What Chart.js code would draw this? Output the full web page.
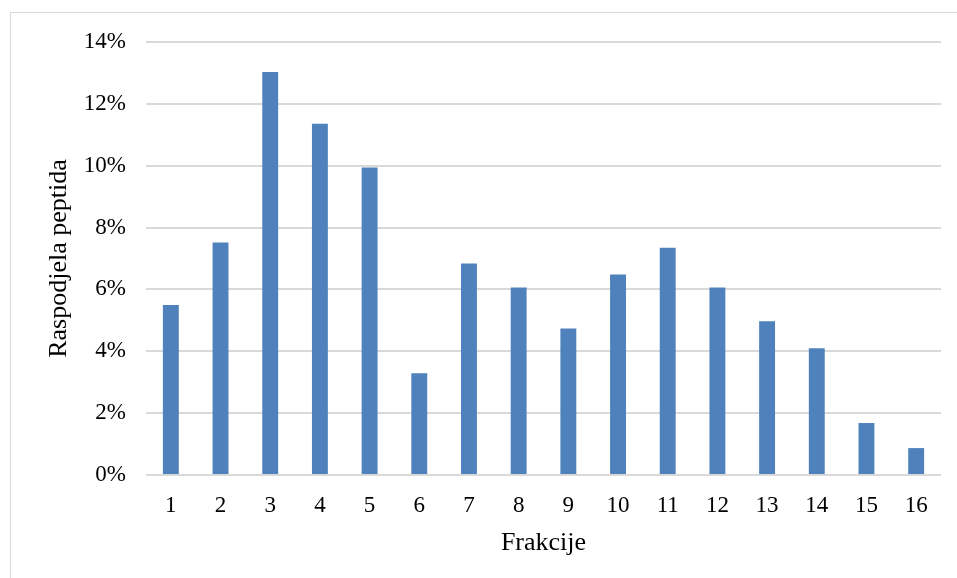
<!DOCTYPE html>
<html lang="en">
<head>
    <meta charset="UTF-8">
    <title>Raspodjela peptida</title>
    <script src="https://cdn.jsdelivr.net/npm/chart.js"></script>
    <style>
        html, body { margin: 0; padding: 0; background: #fff; }
        #wrap { position: absolute; left: 0; top: 0; width: 957px; height: 578px; }
        #frame { position: absolute; left: 10px; top: 12px; width: 1000px; height: 700px; border: 1px solid #d9d9d9; box-sizing: border-box; }
    </style>
</head>
<body>
    <div id="frame"></div>
    <div id="wrap">
        <canvas id="chart" width="957" height="578"></canvas>
    </div>
    <script>
        const fractions = ['1','2','3','4','5','6','7','8','9','10','11','12','13','14','15','16'];
        const peptideShare = [5.5, 7.52, 13.03, 11.36, 9.94, 3.29, 6.84, 6.06, 4.74, 6.48, 7.35, 6.06, 4.97, 4.1, 1.68, 0.87];
        const yTicks = [0, 2, 4, 6, 8, 10, 12, 14];

        const serif = "'Liberation Serif', 'Times New Roman', serif";

        new Chart(document.getElementById('chart'), {
            type: 'bar',
            data: {
                labels: fractions,
                datasets: [{
                    label: 'Raspodjela peptida',
                    data: peptideShare,
                    backgroundColor: '#4f81bd',
                    barPercentage: 0.32,
                    categoryPercentage: 1.0
                }]
            },
            options: {
                responsive: false,
                animation: false,
                layout: { padding: { top: 42, right: 16, left: 0, bottom: 0 } },
                plugins: { legend: { display: false }, tooltip: { enabled: false } },
                scales: {
                    x: {
                        grid: { display: false },
                        border: { display: false },
                        ticks: { color: '#000', font: { family: serif, size: 23 }, padding: 9 },
                        title: { display: true, text: 'Frakcije', color: '#000', font: { family: serif, size: 26 }, padding: { top: 4, bottom: 19 } },
                        afterFit: s => { s.height = 103; }
                    },
                    y: {
                        min: 0,
                        max: 14,
                        afterBuildTicks: s => { s.ticks = yTicks.map(v => ({ value: v })); },
                        grid: { color: '#d9d9d9', lineWidth: 2, drawTicks: false },
                        border: { display: false },
                        ticks: { color: '#000', font: { family: serif, size: 23 }, padding: 20, callback: v => v + '%' },
                        title: { display: true, text: 'Raspodjela peptida', color: '#000', font: { family: serif, size: 26 }, padding: { top: 44, bottom: 14 } },
                        afterFit: s => { s.width = 146; }
                    }
                }
            }
        });
    </script>
</body>
</html>
